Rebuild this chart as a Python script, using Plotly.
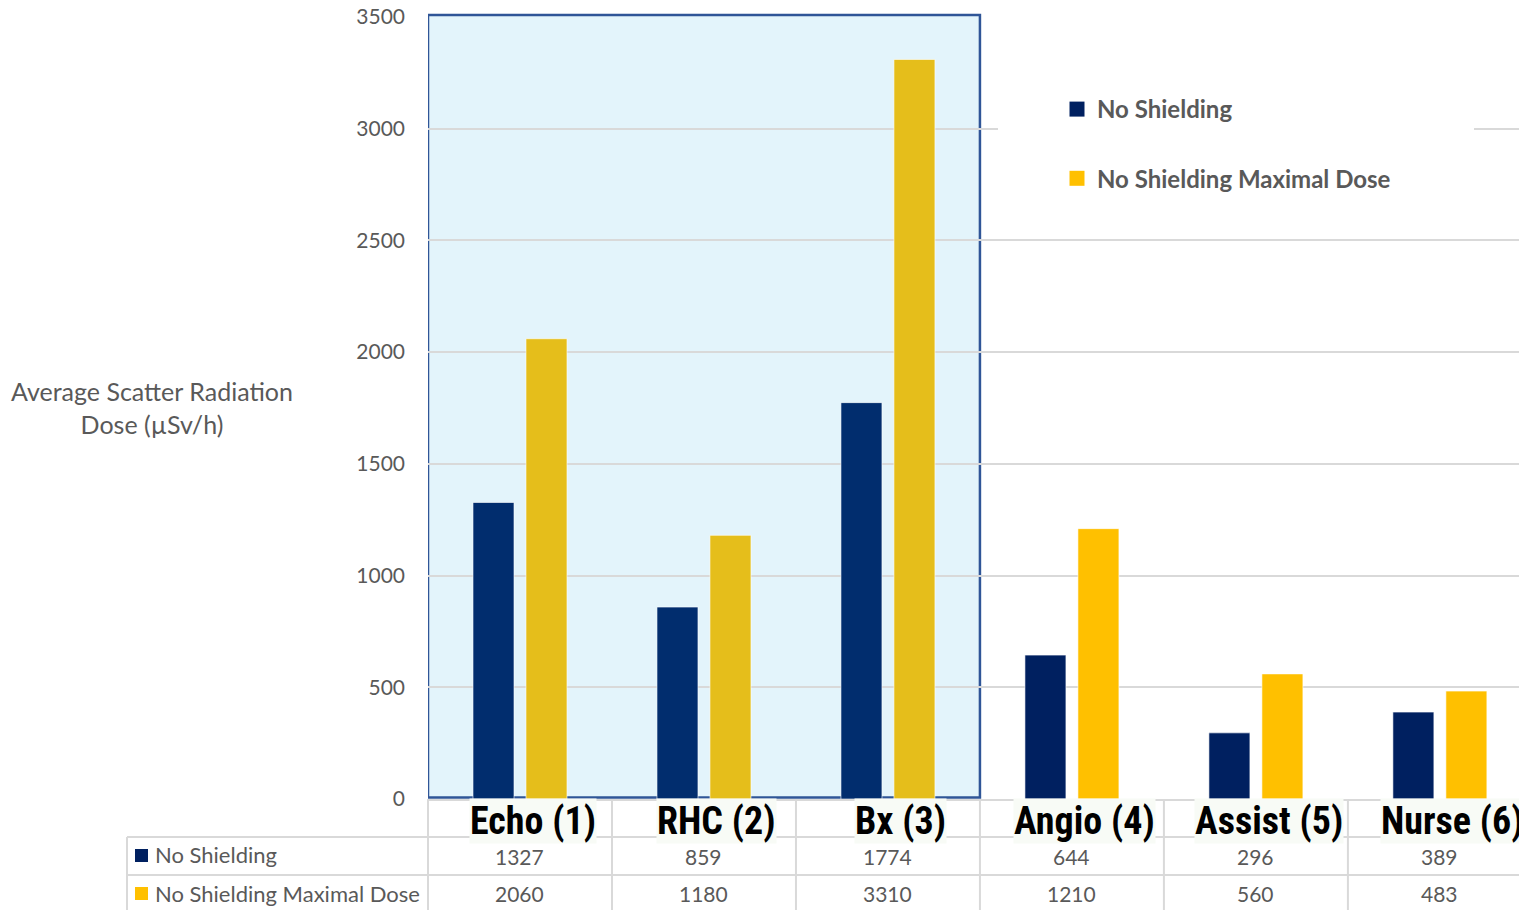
import plotly.graph_objects as go

categories = ["Echo (1)", "RHC (2)", "Bx (3)", "Angio (4)", "Assist (5)", "Nurse (6)"]
no_shielding = [1327, 859, 1774, 644, 296, 389]
max_dose = [2060, 1180, 3310, 1210, 560, 483]
series_names = ["No Shielding", "No Shielding Maximal Dose"]
y_ticks = [0, 500, 1000, 1500, 2000, 2500, 3000, 3500]
highlight_count = 3

W, H = 1519, 910
L, R, T, B = 428, 0, 17, 111
PW, PH = W - L - R, H - T - B

def px(x):
    return (x - L) / PW

def py(y):
    return (H - B - y) / PH

FONT = "Lato, 'Open Sans', sans-serif"
GRAY = "#595959"
LINE = "#D9D9D9"
NAVY_IN, NAVY_OUT = "#012D6E", "#002060"
GOLD_IN, GOLD_OUT = "#E5BE1B", "#FFC000"

n = len(categories)
blue_cols = [NAVY_IN if i < highlight_count else NAVY_OUT for i in range(n)]
gold_cols = [GOLD_IN if i < highlight_count else GOLD_OUT for i in range(n)]

fig = go.Figure()
fig.add_trace(go.Bar(x=list(range(n)), y=no_shielding, name=series_names[0],
                     marker=dict(color=blue_cols, line=dict(color="rgba(255,255,255,0.6)", width=1)),
                     showlegend=False))
fig.add_trace(go.Bar(x=list(range(n)), y=max_dose, name=series_names[1],
                     marker=dict(color=gold_cols, line=dict(color="rgba(255,255,255,0.6)", width=1)),
                     showlegend=False))
# legend entries (square swatches like the reference)
for name, col, grp in zip(series_names, [NAVY_OUT, GOLD_OUT], ["a", "b"]):
    fig.add_trace(go.Scatter(x=[None], y=[None], mode="markers", name=name, legendgroup=grp,
                             marker=dict(symbol="square", size=15, color=col), showlegend=True))

shapes = []
# highlight region
shapes.append(dict(type="rect", xref="x", yref="paper", x0=-0.5, x1=highlight_count - 0.5,
                   y0=0.002, y1=py(15), fillcolor="#E3F4FB",
                   line=dict(color="#2F5597", width=2.5), layer="below"))
# white box behind legend
shapes.append(dict(type="rect", xref="paper", yref="paper", x0=px(998), x1=px(1474),
                   y0=py(215), y1=py(70), fillcolor="white", line=dict(width=0), layer="above"))
# table lines
for yy in [837, 875]:
    shapes.append(dict(type="line", xref="paper", yref="paper", x0=px(127), x1=1,
                       y0=py(yy), y1=py(yy), line=dict(color=LINE, width=2)))
shapes.append(dict(type="line", xref="paper", yref="paper", x0=px(127), x1=px(127),
                   y0=py(837), y1=py(912), line=dict(color=LINE, width=2)))
for k in range(n):
    xb = L + k * PW / 5.93
    shapes.append(dict(type="line", xref="paper", yref="paper", x0=px(xb), x1=px(xb),
                       y0=0, y1=py(912), line=dict(color=LINE, width=2)))
# row label swatches
for yc, col in [(855, NAVY_OUT), (893, GOLD_OUT)]:
    shapes.append(dict(type="rect", xref="paper", yref="paper", x0=px(135), x1=px(148),
                       y0=py(yc + 7), y1=py(yc - 6), fillcolor=col, line=dict(width=0)))

annotations = []
# y axis title
annotations.append(dict(text="Average Scatter Radiation<br>Dose (µSv/h)", xref="paper", yref="paper",
                        x=px(152), y=py(407), showarrow=False, xanchor="center", yanchor="middle",
                        font=dict(family=FONT, size=25, color=GRAY), align="center"))
# category labels
for i, c in enumerate(categories):
    annotations.append(dict(text="<b>" + c + "</b>", xref="x", yref="paper", x=i, y=py(821),
                            xshift=13, showarrow=False, xanchor="center", yanchor="middle",
                            bgcolor="#F8FBF6", borderpad=0,
                            font=dict(family="'Liberation Sans Narrow', 'Roboto Condensed', Arial, sans-serif",
                                      size=38, color="black")))
# table values
for vals, yc in [(no_shielding, 856), (max_dose, 893)]:
    for i, v in enumerate(vals):
        annotations.append(dict(text=str(v), xref="x", yref="paper", x=i, y=py(yc),
                                showarrow=False, xanchor="center", yanchor="middle",
                                font=dict(family=FONT, size=21, color=GRAY)))
# row labels
for name, yc in zip(series_names, [855, 893]):
    annotations.append(dict(text=name, xref="paper", yref="paper", x=px(153), y=py(yc),
                            showarrow=False, xanchor="left", yanchor="middle",
                            font=dict(family=FONT, size=22, color=GRAY)))

fig.update_layout(
    width=W, height=H, autosize=False,
    margin=dict(l=L, r=R, t=T, b=B, pad=0),
    paper_bgcolor="white", plot_bgcolor="rgba(0,0,0,0)",
    barmode="group", bargap=0.424, bargroupgap=0.226,
    shapes=shapes, annotations=annotations,
    showlegend=True,
    legend=dict(x=px(1057), y=py(87), xanchor="left", yanchor="top",
                bgcolor="rgba(0,0,0,0)", traceorder="grouped", tracegroupgap=35,
                font=dict(family=FONT, size=24, color=GRAY, weight="bold")),
    xaxis=dict(range=[-0.5, 5.43], showticklabels=False, showgrid=False, zeroline=False,
               showline=True, linecolor=LINE, linewidth=2, fixedrange=True),
    yaxis=dict(range=[0, 3500], tickvals=y_ticks, showgrid=True, gridcolor=LINE, gridwidth=2,
               zeroline=False, showline=False, ticks="", ticklabelstandoff=22,
               tickfont=dict(family=FONT, size=21, color=GRAY)),
)

fig.write_html("out.html")
